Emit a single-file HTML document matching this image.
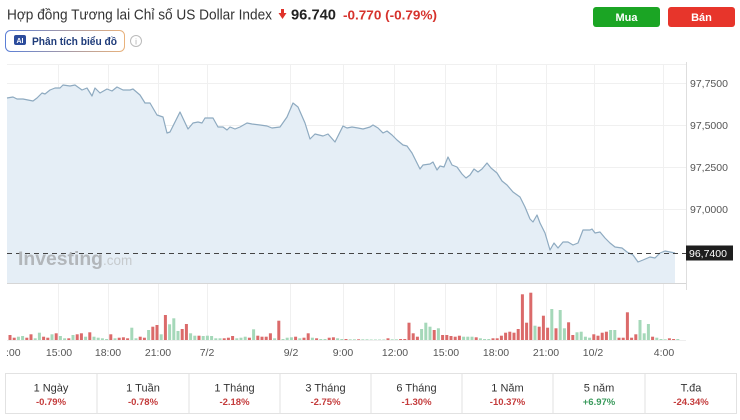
<!DOCTYPE html>
<html><head><meta charset="utf-8">
<style>
html,body{margin:0;padding:0;background:#fff;}
body{width:740px;height:420px;overflow:hidden;position:relative;font-family:"Liberation Sans",sans-serif;}
svg{position:absolute;left:0;top:0;}
.r{fill:#db6a6a}.g{fill:#a5d8b9}
.yl{font-size:10.5px;fill:#555}
.xl{font-size:10.5px;fill:#555;text-anchor:middle}
.tl{font-size:11px;fill:#333;text-anchor:middle}
.tv{font-size:9.5px;fill:#c43c3c;text-anchor:middle;font-weight:bold}
</style></head><body>
<svg width="740" height="420" viewBox="0 0 740 420" xmlns="http://www.w3.org/2000/svg" font-family="Liberation Sans, sans-serif">
<defs>
<linearGradient id="bg" x1="0" x2="1" y1="0" y2="0"><stop offset="0" stop-color="#5b7fd6"/><stop offset="1" stop-color="#e9b27c"/></linearGradient>
<clipPath id="xc"><rect x="5.5" y="340" width="735" height="25"/></clipPath>
</defs>
<!-- header -->
<text x="7" y="19.5" font-size="14.5" fill="#333" textLength="265" lengthAdjust="spacingAndGlyphs">Hợp đồng Tương lai Chỉ số US Dollar Index</text>
<rect x="281" y="9" width="3" height="5" fill="#e0332b"/>
<polygon points="278.5,13 286.5,13 282.5,19" fill="#e0332b"/>
<text x="291" y="19.5" font-size="15" font-weight="bold" fill="#222" textLength="45" lengthAdjust="spacingAndGlyphs">96.740</text>
<text x="343" y="19.5" font-size="13" font-weight="bold" fill="#d6322c" textLength="94" lengthAdjust="spacingAndGlyphs">-0.770 (-0.79%)</text>
<rect x="5.5" y="30.5" width="119" height="21" rx="5" fill="#fff" stroke="url(#bg)" stroke-width="1"/>
<rect x="14" y="35" width="12" height="10" rx="2" fill="#2c4c9c"/>
<text x="20" y="43" font-size="7" font-weight="bold" fill="#fff" text-anchor="middle">AI</text>
<text x="32" y="45" font-size="11" font-weight="bold" fill="#1f3c7a" textLength="85" lengthAdjust="spacingAndGlyphs">Phân tích biểu đồ</text>
<circle cx="136" cy="41" r="5.5" fill="none" stroke="#bbb"/>
<text x="136" y="44.5" font-size="8" fill="#aaa" text-anchor="middle">i</text>
<rect x="593" y="7" width="67" height="20" rx="3" fill="#1ba524"/>
<text x="626.5" y="21" font-size="11" font-weight="bold" fill="#fff" text-anchor="middle">Mua</text>
<rect x="668" y="7" width="67" height="20" rx="3" fill="#e7352b"/>
<text x="701.5" y="21" font-size="11" font-weight="bold" fill="#fff" text-anchor="middle">Bán</text>

<!-- grid -->
<g stroke="#f0f0f0" stroke-width="1">
<line x1="7" x2="686" y1="83.5" y2="83.5"/><line x1="7" x2="686" y1="125.5" y2="125.5"/>
<line x1="7" x2="686" y1="167.5" y2="167.5"/><line x1="7" x2="686" y1="209.5" y2="209.5"/>
<line x1="7" x2="686" y1="64.5" y2="64.5"/>
<g>
<line x1="58.5" x2="58.5" y1="64" y2="340"/><line x1="108.5" x2="108.5" y1="64" y2="340"/>
<line x1="158.5" x2="158.5" y1="64" y2="340"/><line x1="207.5" x2="207.5" y1="64" y2="340"/>
<line x1="290.5" x2="290.5" y1="64" y2="340"/><line x1="343.5" x2="343.5" y1="64" y2="340"/>
<line x1="394.5" x2="394.5" y1="64" y2="340"/><line x1="445.5" x2="445.5" y1="64" y2="340"/>
<line x1="496.5" x2="496.5" y1="64" y2="340"/><line x1="546.5" x2="546.5" y1="64" y2="340"/>
<line x1="594.5" x2="594.5" y1="64" y2="340"/><line x1="663.5" x2="663.5" y1="64" y2="340"/>
</g>
</g>
<!-- area -->
<path d="M7,98 L13,97 17,99 23,99 33,101 37,98 42,93 45,94 50,90 55,88 60,88 63,85 70,86 75,85 82,90 87,88 92,96 95,88 100,93 107,89 112,91 117,87 123,90 130,90 133,89 140,95 145,103 150,103 157,115 163,117 167,133 170,132 180,112 188,129 193,123 198,122 202,123 205,118 213,118 218,127 223,127 227,130 230,127 235,129 240,127 247,123 252,124 260,125 267,126 272,128 280,127 287,117 293,103 298,107 305,123 310,139 315,134 323,136 328,134 335,142 343,126 347,128 352,127 358,128 363,129 370,127 373,125 378,128 383,133 387,131 392,135 397,140 403,145 407,146 412,153 420,169 423,165 430,164 433,162 437,170 440,166 444,167 448,157 452,165 457,167 462,174 466,178 470,175 474,169 478,172 482,169 487,163 491,168 497,173 502,181 507,185 513,192 520,197 525,207 530,219 533,222 537,215 540,223 545,233 550,250 554,243 558,248 563,242 568,242 573,245 578,243 583,230 590,230 592,229 595,233 600,232 605,238 610,243 615,247 622,248 627,252 633,255 638,262 643,260 650,257 655,258 660,253 665,251 670,252 675,253 L675,283 L7,283 Z" fill="#e5eef6"/>
<polyline fill="none" stroke="#8eaac0" stroke-width="1.2" stroke-linejoin="round" points="7,98 13,97 17,99 23,99 33,101 37,98 42,93 45,94 50,90 55,88 60,88 63,85 70,86 75,85 82,90 87,88 92,96 95,88 100,93 107,89 112,91 117,87 123,90 130,90 133,89 140,95 145,103 150,103 157,115 163,117 167,133 170,132 180,112 188,129 193,123 198,122 202,123 205,118 213,118 218,127 223,127 227,130 230,127 235,129 240,127 247,123 252,124 260,125 267,126 272,128 280,127 287,117 293,103 298,107 305,123 310,139 315,134 323,136 328,134 335,142 343,126 347,128 352,127 358,128 363,129 370,127 373,125 378,128 383,133 387,131 392,135 397,140 403,145 407,146 412,153 420,169 423,165 430,164 433,162 437,170 440,166 444,167 448,157 452,165 457,167 462,174 466,178 470,175 474,169 478,172 482,169 487,163 491,168 497,173 502,181 507,185 513,192 520,197 525,207 530,219 533,222 537,215 540,223 545,233 550,250 554,243 558,248 563,242 568,242 573,245 578,243 583,230 590,230 592,229 595,233 600,232 605,238 610,243 615,247 622,248 627,252 633,255 638,262 643,260 650,257 655,258 660,253 665,251 670,252 675,253"/>
<!-- dashed -->
<line x1="7" x2="686" y1="253.5" y2="253.5" stroke="#444" stroke-dasharray="5,4" stroke-width="1"/>
<!-- watermark -->
<text x="18" y="265" font-size="19" font-weight="bold" fill="#b2b6ba" textLength="85" lengthAdjust="spacingAndGlyphs">Investing</text>
<text x="103" y="265" font-size="13.5" fill="#c6cacd">.com</text>
<!-- axes -->
<line x1="7" x2="686" y1="283.5" y2="283.5" stroke="#d6d6d6"/>
<line x1="686.5" x2="686.5" y1="62" y2="290" stroke="#dedede"/>
<line x1="7" x2="686" y1="340.5" y2="340.5" stroke="#eee"/>
<text class="yl" x="690" y="87">97,7500</text>
<text class="yl" x="690" y="129">97,5000</text>
<text class="yl" x="690" y="171">97,2500</text>
<text class="yl" x="690" y="213">97,0000</text>
<rect x="686" y="245.5" width="47" height="15" fill="#1e1e1e"/>
<text x="689" y="257" font-size="10.5" fill="#fff">96,7400</text>
<!-- volume -->
<g>
<rect class="r" x="8.5" y="335" width="3" height="5"/>
<rect class="r" x="12.7" y="337.7" width="3" height="2.3"/>
<rect class="g" x="16.9" y="336.7" width="3" height="3.3"/>
<rect class="g" x="21.1" y="336" width="3" height="4"/>
<rect class="r" x="25.3" y="337.7" width="3" height="2.3"/>
<rect class="r" x="29.5" y="334.3" width="3" height="5.7"/>
<rect class="g" x="33.7" y="338.3" width="3" height="1.7"/>
<rect class="g" x="37.9" y="332.7" width="3" height="7.3"/>
<rect class="r" x="42.1" y="336.7" width="3" height="3.3"/>
<rect class="r" x="46.3" y="337.7" width="3" height="2.3"/>
<rect class="g" x="50.5" y="334.3" width="3" height="5.7"/>
<rect class="r" x="54.7" y="333.3" width="3" height="6.7"/>
<rect class="g" x="58.9" y="336" width="3" height="4"/>
<rect class="g" x="63.1" y="338.3" width="3" height="1.7"/>
<rect class="r" x="67.3" y="338.3" width="3" height="1.7"/>
<rect class="g" x="71.5" y="335" width="3" height="5"/>
<rect class="r" x="75.7" y="334.3" width="3" height="5.7"/>
<rect class="r" x="79.9" y="333.3" width="3" height="6.7"/>
<rect class="g" x="84.1" y="336.7" width="3" height="3.3"/>
<rect class="r" x="88.3" y="332.3" width="3" height="7.7"/>
<rect class="g" x="92.5" y="336.7" width="3" height="3.3"/>
<rect class="g" x="96.7" y="337.7" width="3" height="2.3"/>
<rect class="g" x="100.9" y="338.3" width="3" height="1.7"/>
<rect class="g" x="105.1" y="339" width="3" height="1"/>
<rect class="r" x="109.3" y="334.3" width="3" height="5.7"/>
<rect class="g" x="113.5" y="338.3" width="3" height="1.7"/>
<rect class="r" x="117.7" y="337.7" width="3" height="2.3"/>
<rect class="r" x="121.9" y="337.3" width="3" height="2.7"/>
<rect class="r" x="126.1" y="338.3" width="3" height="1.7"/>
<rect class="g" x="130.3" y="327.7" width="3" height="12.3"/>
<rect class="g" x="134.5" y="338.3" width="3" height="1.7"/>
<rect class="r" x="138.7" y="336.7" width="3" height="3.3"/>
<rect class="r" x="142.9" y="337.7" width="3" height="2.3"/>
<rect class="g" x="147.1" y="330" width="3" height="10"/>
<rect class="r" x="151.3" y="326.7" width="3" height="13.3"/>
<rect class="r" x="155.5" y="325" width="3" height="15"/>
<rect class="g" x="159.7" y="334.3" width="3" height="5.7"/>
<rect class="r" x="163.9" y="315" width="3" height="25"/>
<rect class="g" x="168.1" y="324.3" width="3" height="15.7"/>
<rect class="g" x="172.3" y="318.3" width="3" height="21.7"/>
<rect class="g" x="176.5" y="331" width="3" height="9"/>
<rect class="r" x="180.7" y="329" width="3" height="11"/>
<rect class="r" x="184.9" y="324" width="3" height="16"/>
<rect class="g" x="189.1" y="333.3" width="3" height="6.7"/>
<rect class="g" x="193.3" y="335.7" width="3" height="4.3"/>
<rect class="r" x="197.5" y="335.7" width="3" height="4.3"/>
<rect class="g" x="201.7" y="336" width="3" height="4"/>
<rect class="g" x="205.9" y="335.7" width="3" height="4.3"/>
<rect class="g" x="210.1" y="336" width="3" height="4"/>
<rect class="g" x="214.3" y="338.3" width="3" height="1.7"/>
<rect class="g" x="218.5" y="338.3" width="3" height="1.7"/>
<rect class="r" x="222.7" y="338.3" width="3" height="1.7"/>
<rect class="r" x="226.9" y="337.7" width="3" height="2.3"/>
<rect class="r" x="231.1" y="336" width="3" height="4"/>
<rect class="g" x="235.3" y="338.3" width="3" height="1.7"/>
<rect class="g" x="239.5" y="337.7" width="3" height="2.3"/>
<rect class="g" x="243.7" y="336.7" width="3" height="3.3"/>
<rect class="r" x="247.9" y="337.7" width="3" height="2.3"/>
<rect class="g" x="252.1" y="329.3" width="3" height="10.7"/>
<rect class="r" x="256.3" y="335.7" width="3" height="4.3"/>
<rect class="r" x="260.5" y="336.7" width="3" height="3.3"/>
<rect class="r" x="264.7" y="336.7" width="3" height="3.3"/>
<rect class="r" x="268.9" y="333.3" width="3" height="6.7"/>
<rect class="g" x="273.1" y="338.3" width="3" height="1.7"/>
<rect class="r" x="277.3" y="320.7" width="3" height="19.3"/>
<rect class="g" x="281.5" y="339" width="3" height="1"/>
<rect class="g" x="285.7" y="337.7" width="3" height="2.3"/>
<rect class="g" x="289.9" y="337.3" width="3" height="2.7"/>
<rect class="r" x="294.1" y="336.7" width="3" height="3.3"/>
<rect class="g" x="298.3" y="338.3" width="3" height="1.7"/>
<rect class="r" x="302.5" y="337.7" width="3" height="2.3"/>
<rect class="r" x="306.7" y="333.3" width="3" height="6.7"/>
<rect class="g" x="310.9" y="337.7" width="3" height="2.3"/>
<rect class="r" x="315.1" y="338.3" width="3" height="1.7"/>
<rect class="g" x="319.3" y="339" width="3" height="1"/>
<rect class="g" x="323.5" y="339" width="3" height="1"/>
<rect class="r" x="327.7" y="337.7" width="3" height="2.3"/>
<rect class="r" x="331.9" y="337.3" width="3" height="2.7"/>
<rect class="g" x="336.1" y="338.3" width="3" height="1.7"/>
<rect class="g" x="340.3" y="339" width="3" height="1"/>
<rect class="r" x="344.5" y="339" width="3" height="1"/>
<rect class="g" x="348.7" y="339.3" width="3" height="0.7"/>
<rect class="g" x="352.9" y="339.3" width="3" height="0.7"/>
<rect class="r" x="357.1" y="339.3" width="3" height="0.7"/>
<rect class="g" x="361.3" y="339.3" width="3" height="0.7"/>
<rect class="g" x="365.5" y="339.3" width="3" height="0.7"/>
<rect class="g" x="369.7" y="339.5" width="3" height="0.5"/>
<rect class="g" x="373.9" y="339.5" width="3" height="0.5"/>
<rect class="g" x="378.1" y="339.5" width="3" height="0.5"/>
<rect class="g" x="382.3" y="339.5" width="3" height="0.5"/>
<rect class="r" x="386.5" y="338.3" width="3" height="1.7"/>
<rect class="g" x="390.7" y="339.3" width="3" height="0.7"/>
<rect class="g" x="394.9" y="339.3" width="3" height="0.7"/>
<rect class="r" x="399.1" y="339" width="3" height="1"/>
<rect class="r" x="403.3" y="339" width="3" height="1"/>
<rect class="r" x="407.5" y="322.7" width="3" height="17.3"/>
<rect class="r" x="411.7" y="333.3" width="3" height="6.7"/>
<rect class="r" x="415.9" y="336.7" width="3" height="3.3"/>
<rect class="g" x="420.1" y="329" width="3" height="11"/>
<rect class="g" x="424.3" y="322.7" width="3" height="17.3"/>
<rect class="g" x="428.5" y="326.7" width="3" height="13.3"/>
<rect class="r" x="432.7" y="330" width="3" height="10"/>
<rect class="g" x="436.9" y="328.3" width="3" height="11.7"/>
<rect class="r" x="441.1" y="335" width="3" height="5"/>
<rect class="r" x="445.3" y="335" width="3" height="5"/>
<rect class="r" x="449.5" y="336" width="3" height="4"/>
<rect class="r" x="453.7" y="336.7" width="3" height="3.3"/>
<rect class="r" x="457.9" y="335.7" width="3" height="4.3"/>
<rect class="g" x="462.1" y="336.7" width="3" height="3.3"/>
<rect class="g" x="466.3" y="336.7" width="3" height="3.3"/>
<rect class="g" x="470.5" y="336.7" width="3" height="3.3"/>
<rect class="r" x="474.7" y="337.3" width="3" height="2.7"/>
<rect class="g" x="478.9" y="338.3" width="3" height="1.7"/>
<rect class="g" x="483.1" y="339" width="3" height="1"/>
<rect class="g" x="487.3" y="339" width="3" height="1"/>
<rect class="r" x="491.5" y="338.3" width="3" height="1.7"/>
<rect class="r" x="495.7" y="338.3" width="3" height="1.7"/>
<rect class="r" x="499.9" y="335.7" width="3" height="4.3"/>
<rect class="r" x="504.1" y="332.7" width="3" height="7.3"/>
<rect class="r" x="508.3" y="331.7" width="3" height="8.3"/>
<rect class="r" x="512.5" y="332.7" width="3" height="7.3"/>
<rect class="r" x="516.7" y="329" width="3" height="11"/>
<rect class="r" x="520.9" y="294.3" width="3" height="45.7"/>
<rect class="r" x="525.1" y="322.7" width="3" height="17.3"/>
<rect class="r" x="529.3" y="292.7" width="3" height="47.3"/>
<rect class="g" x="533.5" y="325.7" width="3" height="14.3"/>
<rect class="r" x="537.7" y="326.7" width="3" height="13.3"/>
<rect class="r" x="541.9" y="315.7" width="3" height="24.3"/>
<rect class="r" x="546.1" y="327.7" width="3" height="12.3"/>
<rect class="g" x="550.3" y="309" width="3" height="31"/>
<rect class="r" x="554.5" y="328.3" width="3" height="11.7"/>
<rect class="g" x="558.7" y="310" width="3" height="30"/>
<rect class="g" x="562.9" y="328.3" width="3" height="11.7"/>
<rect class="r" x="567.1" y="322.3" width="3" height="17.7"/>
<rect class="r" x="571.3" y="335" width="3" height="5"/>
<rect class="g" x="575.5" y="332.3" width="3" height="7.7"/>
<rect class="g" x="579.7" y="331.7" width="3" height="8.3"/>
<rect class="g" x="583.9" y="336.7" width="3" height="3.3"/>
<rect class="g" x="588.1" y="337.7" width="3" height="2.3"/>
<rect class="r" x="592.3" y="334.3" width="3" height="5.7"/>
<rect class="r" x="596.5" y="335.7" width="3" height="4.3"/>
<rect class="r" x="600.7" y="332.7" width="3" height="7.3"/>
<rect class="r" x="604.9" y="331.7" width="3" height="8.3"/>
<rect class="g" x="609.1" y="330" width="3" height="10"/>
<rect class="g" x="613.3" y="330" width="3" height="10"/>
<rect class="r" x="617.5" y="337.7" width="3" height="2.3"/>
<rect class="r" x="621.7" y="337.7" width="3" height="2.3"/>
<rect class="r" x="625.9" y="312.3" width="3" height="27.7"/>
<rect class="r" x="630.1" y="337.7" width="3" height="2.3"/>
<rect class="r" x="634.3" y="334.3" width="3" height="5.7"/>
<rect class="g" x="638.5" y="320" width="3" height="20"/>
<rect class="g" x="642.7" y="333.3" width="3" height="6.7"/>
<rect class="g" x="646.9" y="324" width="3" height="16"/>
<rect class="r" x="651.1" y="336.7" width="3" height="3.3"/>
<rect class="g" x="655.3" y="337.7" width="3" height="2.3"/>
<rect class="g" x="659.5" y="339" width="3" height="1"/>
<rect class="g" x="663.7" y="339.3" width="3" height="0.7"/>
<rect class="r" x="667.9" y="338.3" width="3" height="1.7"/>
<rect class="r" x="672.1" y="339" width="3" height="1"/>
<rect class="g" x="676.3" y="339" width="3" height="1"/>
</g>
<!-- x labels -->
<g clip-path="url(#xc)">
<text class="xl" x="7.4" y="356">12:00</text>
<text class="xl" x="59" y="356">15:00</text>
<text class="xl" x="108" y="356">18:00</text>
<text class="xl" x="158" y="356">21:00</text>
<text class="xl" x="207" y="356">7/2</text>
<text class="xl" x="291" y="356">9/2</text>
<text class="xl" x="343" y="356">9:00</text>
<text class="xl" x="395" y="356">12:00</text>
<text class="xl" x="446" y="356">15:00</text>
<text class="xl" x="496" y="356">18:00</text>
<text class="xl" x="546" y="356">21:00</text>
<text class="xl" x="593" y="356">10/2</text>
<text class="xl" x="664" y="356">4:00</text>
</g>
<!-- table -->
<rect x="5.5" y="373.5" width="731" height="40" fill="none" stroke="#e2e2e2"/>
<g stroke="#e2e2e2">
<line x1="97" x2="97" y1="374" y2="413"/><line x1="189" x2="189" y1="374" y2="413"/>
<line x1="280" x2="280" y1="374" y2="413"/><line x1="371" x2="371" y1="374" y2="413"/>
<line x1="462" x2="462" y1="374" y2="413"/><line x1="553" x2="553" y1="374" y2="413"/>
<line x1="645" x2="645" y1="374" y2="413"/>
</g>
<text class="tl" x="51" y="391.5">1 Ngày</text>
<text class="tl" x="143" y="391.5">1 Tuần</text>
<text class="tl" x="234.5" y="391.5">1 Tháng</text>
<text class="tl" x="325.5" y="391.5">3 Tháng</text>
<text class="tl" x="416.5" y="391.5">6 Tháng</text>
<text class="tl" x="507.5" y="391.5">1 Năm</text>
<text class="tl" x="599" y="391.5">5 năm</text>
<text class="tl" x="691" y="391.5">T.đa</text>
<text class="tv" x="51" y="405">-0.79%</text>
<text class="tv" x="143" y="405">-0.78%</text>
<text class="tv" x="234.5" y="405">-2.18%</text>
<text class="tv" x="325.5" y="405">-2.75%</text>
<text class="tv" x="416.5" y="405">-1.30%</text>
<text class="tv" x="507.5" y="405">-10.37%</text>
<text class="tv" x="599" y="405" style="fill:#3a9a5c">+6.97%</text>
<text class="tv" x="691" y="405">-24.34%</text>
</svg>
</body></html>
